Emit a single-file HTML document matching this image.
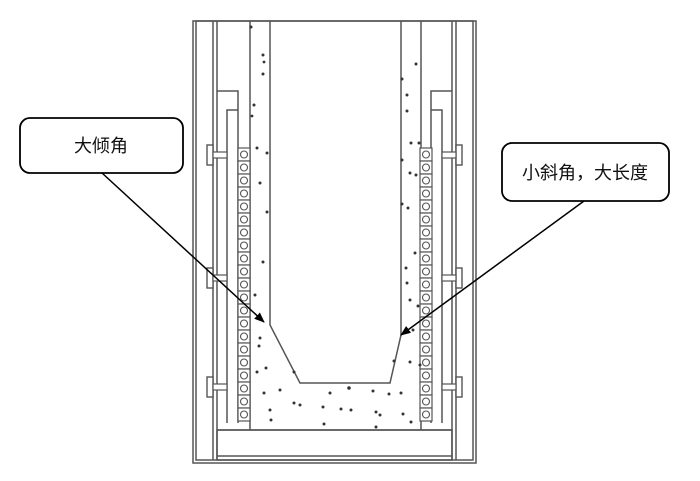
<!DOCTYPE html>
<html><head><meta charset="utf-8"><style>
html,body{margin:0;padding:0;background:#fff;width:700px;height:481px;overflow:hidden}
svg{display:block}
text{font-family:"Liberation Sans","Noto Sans CJK SC",sans-serif;font-size:18px;fill:#111}
</style></head><body>
<svg width="700" height="481" viewBox="0 0 700 481" xmlns="http://www.w3.org/2000/svg">
<defs>
<marker id="ar" viewBox="0 0 10 10" refX="9" refY="5" markerWidth="7" markerHeight="7" orient="auto"><path d="M0,1 L10,5 L0,9 z" fill="#000"/></marker>
<g id="cell"><rect x="0" y="0" width="12" height="13" fill="#fff" stroke="#555" stroke-width="1.2"/><circle cx="6" cy="6.5" r="3.5" fill="none" stroke="#555" stroke-width="1.1"/></g>
<g id="bolt"><rect x="0" y="0" width="6" height="20" fill="#fff" stroke="#555" stroke-width="1.4"/><rect x="6" y="7" width="14" height="6" fill="#fff" stroke="#555" stroke-width="1.2"/></g>
</defs>
<g fill="none" stroke="#555" stroke-width="1.5">
<rect x="193" y="21" width="283" height="442"/>
<rect x="196" y="21" width="277" height="439"/>
<line x1="213" y1="21" x2="213" y2="460"/><line x1="217" y1="21" x2="217" y2="460"/>
<line x1="456" y1="21" x2="456" y2="460"/><line x1="452" y1="21" x2="452" y2="460"/>
<rect x="217" y="430" width="235" height="30"/>
<line x1="217" y1="456" x2="452" y2="456"/>
<path d="M217,91 H238 V148"/><path d="M227,423 V110 H238"/>
<path d="M452,91 H431 V148"/><path d="M442,423 V110 H431"/>
<line x1="238" y1="148" x2="238" y2="423"/><line x1="431" y1="148" x2="431" y2="423"/>
<line x1="250" y1="21" x2="250" y2="430"/>
<line x1="421" y1="21" x2="421" y2="430"/>
<line x1="217" y1="430" x2="452" y2="430"/>
<path d="M270,21 V325 L300,383 H390 L401,335 V21"/>
</g>
<g>
<use href="#cell" x="238" y="148"/><use href="#cell" x="238" y="161"/><use href="#cell" x="238" y="174"/><use href="#cell" x="238" y="187"/><use href="#cell" x="238" y="200"/><use href="#cell" x="238" y="213"/><use href="#cell" x="238" y="226"/><use href="#cell" x="238" y="239"/><use href="#cell" x="238" y="252"/><use href="#cell" x="238" y="265"/><use href="#cell" x="238" y="278"/><use href="#cell" x="238" y="291"/><use href="#cell" x="238" y="304"/><use href="#cell" x="238" y="317"/><use href="#cell" x="238" y="330"/><use href="#cell" x="238" y="343"/><use href="#cell" x="238" y="356"/><use href="#cell" x="238" y="369"/><use href="#cell" x="238" y="382"/><use href="#cell" x="238" y="395"/><use href="#cell" x="238" y="408"/>
<use href="#cell" x="420" y="148"/><use href="#cell" x="420" y="161"/><use href="#cell" x="420" y="174"/><use href="#cell" x="420" y="187"/><use href="#cell" x="420" y="200"/><use href="#cell" x="420" y="213"/><use href="#cell" x="420" y="226"/><use href="#cell" x="420" y="239"/><use href="#cell" x="420" y="252"/><use href="#cell" x="420" y="265"/><use href="#cell" x="420" y="278"/><use href="#cell" x="420" y="291"/><use href="#cell" x="420" y="304"/><use href="#cell" x="420" y="317"/><use href="#cell" x="420" y="330"/><use href="#cell" x="420" y="343"/><use href="#cell" x="420" y="356"/><use href="#cell" x="420" y="369"/><use href="#cell" x="420" y="382"/><use href="#cell" x="420" y="395"/><use href="#cell" x="420" y="408"/>
</g>
<use href="#bolt" x="207" y="145"/><use href="#bolt" x="207" y="268"/><use href="#bolt" x="207" y="377"/>
<g transform="translate(669,0) scale(-1,1)"><use href="#bolt" x="207" y="145"/><use href="#bolt" x="207" y="268"/><use href="#bolt" x="207" y="377"/></g>
<g fill="#333">
<circle cx="251" cy="27" r="1.5"/><circle cx="263" cy="55" r="1.5"/><circle cx="264" cy="62" r="1.4"/><circle cx="263" cy="74" r="1.5"/><circle cx="254" cy="105" r="1.5"/><circle cx="252" cy="116" r="1.4"/><circle cx="257" cy="148" r="1.5"/><circle cx="267" cy="153" r="1.5"/><circle cx="260" cy="183" r="1.5"/><circle cx="267" cy="212" r="1.5"/><circle cx="263" cy="262" r="1.5"/><circle cx="255" cy="295" r="1.5"/><circle cx="260" cy="338" r="1.5"/><circle cx="259" cy="346" r="1.5"/><circle cx="257" cy="372" r="1.5"/><circle cx="266" cy="368" r="1.5"/><circle cx="264" cy="393" r="1.5"/><circle cx="270" cy="410" r="1.5"/><circle cx="271" cy="420" r="1.5"/><circle cx="280" cy="390" r="1.5"/><circle cx="294" cy="403" r="1.5"/><circle cx="300" cy="405" r="1.5"/><circle cx="323" cy="407" r="1.5"/><circle cx="324" cy="424" r="1.5"/><circle cx="330" cy="393" r="1.5"/><circle cx="349" cy="388" r="1.8"/><circle cx="341" cy="409" r="1.5"/><circle cx="351" cy="410" r="1.5"/><circle cx="373" cy="391" r="1.5"/><circle cx="376" cy="412" r="1.5"/><circle cx="380" cy="415" r="1.5"/><circle cx="389" cy="394" r="1.5"/><circle cx="401" cy="393" r="1.5"/><circle cx="403" cy="414" r="1.5"/><circle cx="411" cy="422" r="1.5"/><circle cx="376" cy="427" r="1.5"/><circle cx="294" cy="372" r="1.5"/>
<circle cx="416" cy="64" r="1.5"/><circle cx="402" cy="79" r="1.5"/><circle cx="407" cy="95" r="1.5"/><circle cx="407" cy="111" r="1.5"/><circle cx="411" cy="143" r="1.5"/><circle cx="419" cy="143" r="1.5"/><circle cx="402" cy="160" r="1.5"/><circle cx="410" cy="173" r="1.5"/><circle cx="416" cy="175" r="1.5"/><circle cx="402" cy="204" r="1.5"/><circle cx="408" cy="208" r="1.5"/><circle cx="415" cy="253" r="1.5"/><circle cx="406" cy="268" r="1.5"/><circle cx="407" cy="283" r="1.5"/><circle cx="410" cy="300" r="1.5"/><circle cx="418" cy="306" r="1.5"/><circle cx="413" cy="330" r="1.5"/><circle cx="410" cy="362" r="1.5"/><circle cx="394" cy="361" r="1.5"/><circle cx="420" cy="365" r="1.5"/>
</g>
<rect x="20" y="118" width="163" height="55" rx="10" fill="#fff" stroke="#000" stroke-width="1.8"/>
<text x="101" y="152" text-anchor="middle">大倾角</text>
<rect x="502" y="143" width="167" height="58" rx="10" fill="#fff" stroke="#000" stroke-width="1.8"/>
<text x="585" y="179" text-anchor="middle">小斜角，大长度</text>
<line x1="102" y1="173" x2="264" y2="322" stroke="#000" stroke-width="1.5" marker-end="url(#ar)"/>
<line x1="584" y1="201" x2="401" y2="335" stroke="#000" stroke-width="1.5" marker-end="url(#ar)"/>
</svg>
</body></html>
